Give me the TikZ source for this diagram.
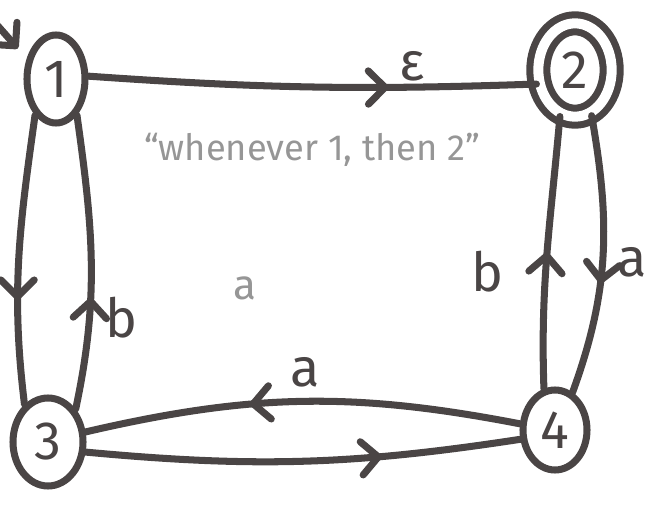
\documentclass[tikz,border=0pt]{standalone}
\usepackage{fontspec}
\setmainfont{Fira Sans}
\usetikzlibrary{shapes.geometric,arrows.meta,decorations.markings}
\definecolor{ink}{RGB}{74,69,69}
\definecolor{pencil}{RGB}{150,150,150}
\begin{document}
\begin{tikzpicture}[x=0.03cm,y=0.03cm,line width=6pt,line cap=round,
  state/.style={ellipse,draw=ink,inner sep=0,text=ink,font=\fontsize{46}{46}\selectfont},
  accepting/.style={double=white,double distance=0.3cm},
  trans/.style={draw=ink,postaction={decorate},decoration={markings,mark=at position #1 with {\arrow{Straight Barb[length=5mm,width=1cm,round]}}}},
  lbl/.style={text=ink,font=\fontsize{46}{46}\selectfont},
  note/.style={text=pencil,font=\fontsize{31}{31}\selectfont}]
\useasboundingbox (0,0) rectangle (647,-508);
% states
\node[state,minimum width=1.74cm,minimum height=2.64cm](s1) at (56,-79) {1};
\node[state,accepting,minimum width=2.2cm,minimum height=2.8cm](s2) at (575,-70) {2};
\node[state,minimum width=2.1cm,minimum height=2.64cm](s3) at (48,-442) {3};
\node[state,minimum width=1.92cm,minimum height=2.4cm](s4) at (555,-430) {4};
% start
\coordinate (start) at (-25,0);
\draw[ink,-{Straight Barb[length=5mm,width=1cm,round]},shorten >=0.4cm] (start) -- (s1.145);
% transitions
\draw[trans=0.67] (s1.5) to[bend right=3] (s2.200);
\node[lbl](l12) at (412,-66) {ε};
\draw[trans=0.64] (s1.240) to[out=262,in=97] (s3.122);
\draw[trans=0.38] (s3.50) to[out=78,in=278] (s1.300);
\node[lbl](l31) at (122,-318) {b};
\draw[trans=0.5] (s4.105) to[out=92,in=265] (s2.252);
\node[lbl](l42) at (487,-272) {b};
\draw[trans=0.6] (s2.290) to[out=280,in=70] (s4.65);
\node[lbl](l24) at (632,-262) {a};
\draw[trans=0.62] (s4.170) to[bend right=12] (s3.15);
\node[lbl](l43) at (305,-372) {a};
\draw[trans=0.68] (s3.345) to[bend right=7] (s4.195);
% pencil notes
\node[note](n1) at (312,-150) {“whenever 1, then 2”};
\node[note,font=\fontsize{36}{36}\selectfont](n2) at (245,-288) {a};
\end{tikzpicture}
\end{document}
